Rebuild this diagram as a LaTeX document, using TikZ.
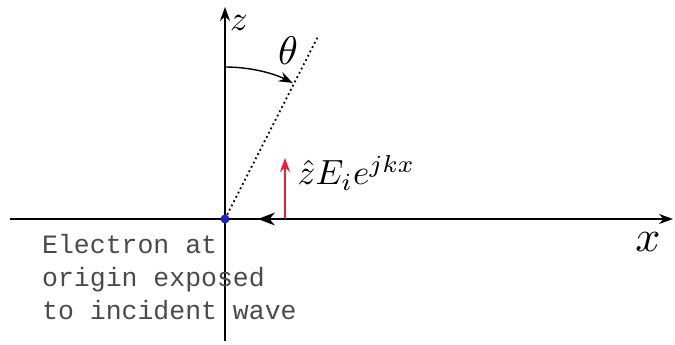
\documentclass[tikz,border=0pt]{standalone}
\usepackage{fontspec}
\newfontfamily\notefont{Liberation Mono}
\usetikzlibrary{arrows.meta}
\definecolor{fieldred}{HTML}{E8203A}
\definecolor{electron}{HTML}{1A22C8}
\definecolor{notegray}{HTML}{4A4A4A}
\tikzset{
  axisline/.style={line width=1.6pt,-{Stealth[length=14pt,width=10pt]}},
  mathlab/.style={scale=#1/10,inner sep=0pt},
}

\begin{document}
\begin{tikzpicture}[x=1pt,y=1pt]
    \useasboundingbox (-225,-126) rectangle (450,219);
    % axes
    \coordinate (O) at (0,0);
    \coordinate (xleft) at (-215,0);
    \coordinate (xright) at (448,0);
    \coordinate (zbot) at (0,-122);
    \coordinate (ztop) at (0,212);
    \draw[axisline] (xleft) -- (xright);
    \draw[axisline] (zbot) -- (ztop);
    \node[mathlab=35] (zlab) at (14,196) {$z$};
    \node[mathlab=44] (xlab) at (423,-23) {$x$};
    % observation direction and angle
    \coordinate (ray) at (63:204);
    \draw[line width=1.8pt,dash pattern=on 1.8pt off 3pt] (O) -- (ray);
    \coordinate (arcstart) at (90:152);
    \draw[line width=1.4pt,-{Stealth[length=14pt,width=10pt]}] (arcstart) arc[start angle=90,end angle=63.5,radius=152];
    \node[mathlab=40] (thlab) at (63,168) {$\theta$};
    % incident field and propagation direction
    \coordinate (src) at (60,0);
    \coordinate (Etip) at (60,61);
    \coordinate (ktip) at (33,0);
    \draw[fieldred,line width=1.4pt,-{Stealth[length=14pt,width=10pt]}] (src) -- (Etip);
    \draw[line width=1.8pt,-{Stealth[length=17pt,width=13pt]}] (src) -- (ktip);
    \node[mathlab=35,anchor=base west] (Elab) at (72,34) {$\hat{z}E_ie^{jkx}$};
    % electron
    \fill[electron] (O) circle (4.5);
    \node[notegray,align=left,anchor=north west,inner sep=0pt,font=\notefont\fontsize{26.5}{33}\selectfont] (note) at (-183,-15) {Electron at\\origin exposed\\to incident wave};
\end{tikzpicture}
\end{document}
